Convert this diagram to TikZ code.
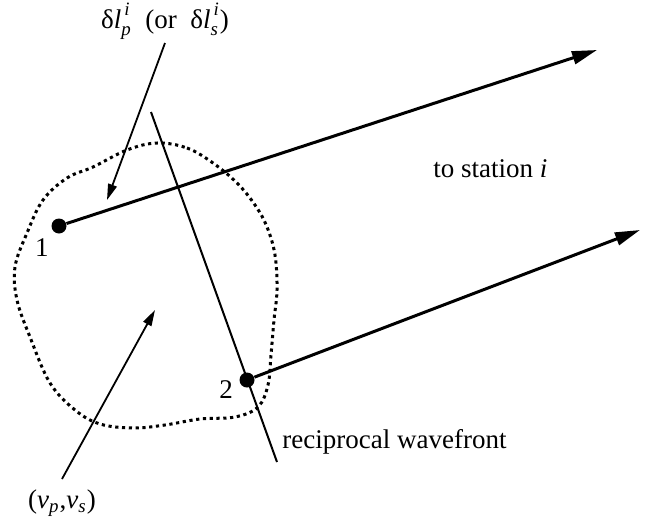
\documentclass[tikz,border=0pt]{standalone}
\usepackage{amsmath}
\usepackage{fontspec}
\setmainfont{Liberation Serif}
\usetikzlibrary{arrows.meta,positioning}
\newcommand{\vit}[1]{\text{\itshape #1}}
\tikzset{
  ray/.style={line width=1.5pt, -{Triangle[length=12.5pt,width=6.5pt]}},
  pointer/.style={line width=0.9pt, -{Triangle[length=8pt,width=4.5pt]}},
  station/.style={circle, fill, inner sep=0pt, minimum size=7.5pt},
  region/.style={line width=1.5pt, dash pattern=on 1.6pt off 1.8pt}
}

\begin{document}
\begin{tikzpicture}[x=0.5pt, y=-0.5pt, font=\fontsize{13.5}{16}\selectfont]
    \useasboundingbox (0,0) rectangle (670,525);

    % Velocity region around the source
    \draw[region] plot[smooth cycle, tension=0.6] coordinates {
      (157,143) (187,148) (213,163) (237,183) (255,205) (267,227)
      (275,255) (277,290) (274,320) (271,355) (268,385) (258,407)
      (235,417) (200,419) (165,425) (133,428) (100,424) (75,410)
      (50,383) (30,337) (17,300) (15,267) (27,233) (43,200)
      (67,178) (93,167) (127,150)};

    % Reciprocal wavefront
    \coordinate (wtop) at (151,112);
    \coordinate (wbot) at (277,462);
    \draw[line width=1pt] (wtop) -- (wbot);
    \node[anchor=base west, inner sep=0pt] (wlab) at (282,448) {reciprocal wavefront};

    % Sources 1 and 2
    \node[station] (p1) at (59,226) {};
    \node[station] (p2) at (247,380) {};
    \node (n1) at (42,248) {1};
    \node (n2) at (226,390) {2};

    % Rays to station i
    \coordinate (t1) at (597,50);
    \coordinate (t2) at (640,230);
    \draw[ray] (p1) -- (t1);
    \draw[ray] (p2) -- (t2);
    \node[anchor=base west, inner sep=0pt] (sta) at (433,177) {to station \textit{i}};

    % Path length label
    \node[anchor=base] (dl) at (165,28)
      {δ$\vit{l}^{\,\vit{i}}_{\vit{p}}$\ \ (or\ \ δ$\vit{l}^{\,\vit{i}}_{\vit{s}}$)};
    \coordinate (dlfrom) at (165,43);
    \coordinate (dlto) at (107,200);
    \draw[pointer] (dlfrom) -- (dlto);

    % Velocity label
    \node[anchor=base] (vel) at (62,508)
      {(\textit{v}$_{\vit{p}}$,\textit{v}$_{\vit{s}}$)};
    \coordinate (velfrom) at (62,479);
    \coordinate (velto) at (155,310);
    \draw[pointer] (velfrom) -- (velto);
\end{tikzpicture}
\end{document}
